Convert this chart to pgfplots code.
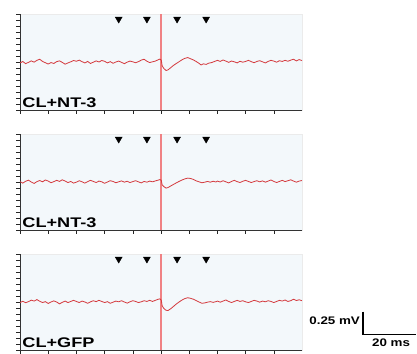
\documentclass[border=0pt]{standalone}
\usepackage{pgfplots}
\pgfplotsset{compat=1.18}
\usepackage{fontspec}
\setmainfont{Liberation Sans}
\definecolor{trace}{RGB}{212,58,62}
\definecolor{spike}{RGB}{240,130,132}
\definecolor{bgpanel}{RGB}{243,248,251}
\pgfplotsset{
  panel/.style={
    scale only axis, width=282bp, height=96bp,
    xmin=0, xmax=100, ymin=-0.52, ymax=0.52,
    xtick={0,10,...,90}, ytick={-0.52,-0.455,...,0.53},
    xticklabels={}, yticklabels={},
    axis x line*=bottom, axis y line*=left,
    axis line style={black!80, line width=0.6bp},
    tick align=outside, major tick length=4bp,
    tick style={black!85, line width=0.55bp},
    axis background/.style={fill=bgpanel, draw=black!8},
    anchor=south west,
  },
  tr/.style={trace, line width=0.8bp},
  sp/.style={spike, line width=1.3bp},
  arrows/.style={only marks, mark=triangle*, mark size=4bp, mark options={rotate=180, fill=black, draw=black}},
}
\newcommand{\plabel}[1]{\node[anchor=south west, inner sep=0pt] at (rel axis cs:0.008,0.02) {\fontsize{14}{14}\selectfont\bfseries\scalebox{1.3}[1]{#1}};}
\begin{document}
\begin{tikzpicture}
\path[use as bounding box] (0,0) rectangle (417bp,354bp);
% Panel 1
\begin{axis}[panel, at={(20bp,244bp)}]
\addplot[sp] coordinates {(50.05,-0.52)(50.05,0.52)};
\addplot[tr] coordinates {
(0,-0.010)(1,0.005)(2,-0.018)(3,-0.004)(4,0.012)(5,-0.002)(6,0.018)(7,0.030)(8,0.006)(9,-0.008)
(10,-0.022)(11,-0.006)(12,-0.016)(13,0.004)(14,0.012)(15,-0.004)(16,-0.024)(17,-0.010)(18,0.002)(19,0.016)
(20,0.008)(21,0.020)(22,0.004)(23,-0.010)(24,0.006)(25,-0.016)(26,-0.002)(27,0.012)(28,0.000)(29,0.016)
(30,0.008)(31,-0.010)(32,0.004)(33,-0.014)(34,0.000)(35,0.010)(36,-0.004)(37,-0.018)(38,-0.002)(39,0.010)
(40,0.002)(41,-0.008)(42,0.004)(43,0.020)(44,0.030)(45,0.008)(46,-0.006)(47,0.002)(48,0.010)(49,0.024)
(49.6,0.032)(50.1,0.020)(50.4,-0.040)(51,-0.070)(51.8,-0.092)(52.5,-0.085)
(53.5,-0.060)(54.5,-0.035)(55.5,-0.015)(56.5,0.005)(57.5,0.025)(58.5,0.040)(59.5,0.048)(60.5,0.035)
(61.5,0.022)(62.5,0.005)(63.5,-0.015)(64.2,-0.032)(65,-0.020)(66,-0.026)(67,-0.012)(68,-0.006)(69,0.006)
(70,0.018)(71,0.006)(72,0.022)(73,0.010)(74,-0.004)(75,0.010)(76,0.002)(77,-0.010)(78,0.008)(79,-0.002)
(80,0.006)(81,0.018)(82,0.004)(83,-0.008)(84,0.006)(85,0.014)(86,0.002)(87,-0.010)(88,0.006)(89,0.018)
(90,0.010)(91,-0.002)(92,0.014)(93,0.006)(94,0.018)(95,0.008)(96,0.020)(97,0.030)(98,0.012)(99,0.026)(100,0.016)
};
\addplot[arrows] coordinates {(35,0.465)(45,0.465)(55.7,0.465)(66,0.465)};
\plabel{CL+NT-3}
\end{axis}
% Panel 2
\begin{axis}[panel, at={(20bp,124bp)}]
\addplot[sp] coordinates {(50.05,-0.52)(50.05,0.52)};
\addplot[tr] coordinates {
(0,0.004)(1,-0.012)(2,0.008)(3,0.020)(4,0.000)(5,-0.016)(6,0.004)(7,0.016)(8,0.002)(9,0.022)
(10,0.010)(11,-0.008)(12,0.004)(13,0.018)(14,0.006)(15,0.024)(16,0.010)(17,-0.006)(18,0.006)(19,-0.012)
(20,-0.002)(21,0.014)(22,0.002)(23,-0.012)(24,0.004)(25,0.018)(26,0.006)(27,-0.006)(28,0.010)(29,0.002)
(30,-0.014)(31,0.000)(32,0.014)(33,0.006)(34,-0.008)(35,0.002)(36,0.012)(37,-0.002)(38,0.008)(39,-0.006)
(40,0.004)(41,0.014)(42,0.002)(43,-0.010)(44,0.006)(45,-0.002)(46,0.010)(47,0.002)(48,0.012)(49,0.020)
(49.6,0.026)(50.1,0.018)(50.4,-0.030)(51,-0.050)(51.8,-0.066)(52.5,-0.060)
(53.5,-0.042)(54.5,-0.025)(55.5,-0.008)(56.5,0.008)(57.5,0.022)(58.5,0.034)(59.5,0.042)(60.5,0.038)
(61.5,0.028)(62.5,0.012)(63.5,0.002)(64.5,-0.008)(65.5,-0.002)(66.5,0.006)(67.5,-0.002)(68.5,0.008)(69.5,0.000)
(70,0.010)(71,0.000)(72,0.014)(73,0.002)(74,-0.010)(75,0.006)(76,0.018)(77,0.004)(78,-0.006)(79,0.008)
(80,0.018)(81,0.006)(82,-0.006)(83,0.004)(84,0.014)(85,0.002)(86,0.012)(87,-0.002)(88,0.010)(89,0.022)
(90,0.006)(91,-0.006)(92,0.006)(93,0.018)(94,0.004)(95,0.014)(96,0.024)(97,0.010)(98,-0.002)(99,0.010)(100,0.016)
};
\addplot[arrows] coordinates {(35,0.465)(45,0.465)(55.7,0.465)(66,0.465)};
\plabel{CL+NT-3}
\end{axis}
% Panel 3
\begin{axis}[panel, at={(20bp,4bp)}, clip=false]
\addplot[sp] coordinates {(50.05,-0.52)(50.05,0.52)};
\addplot[tr] coordinates {
(0,-0.006)(1,0.008)(2,-0.008)(3,0.004)(4,0.020)(5,0.010)(6,0.026)(7,0.008)(8,-0.006)(9,0.004)
(10,-0.016)(11,0.000)(12,0.012)(13,0.000)(14,-0.020)(15,-0.004)(16,0.010)(17,-0.006)(18,0.006)(19,0.018)
(20,0.006)(21,-0.006)(22,0.010)(23,0.000)(24,-0.014)(25,0.002)(26,0.014)(27,0.004)(28,0.018)(29,0.006)
(30,-0.006)(31,0.004)(32,-0.014)(33,-0.002)(34,0.010)(35,0.002)(36,0.014)(37,0.000)(38,-0.012)(39,0.002)
(40,0.014)(41,0.006)(42,-0.006)(43,0.002)(44,0.014)(45,0.006)(46,0.018)(47,0.006)(48,0.018)(49,0.030)
(49.6,0.034)(50.1,0.020)(50.4,-0.040)(51,-0.070)(51.8,-0.090)(52.5,-0.092)
(53.5,-0.072)(54.5,-0.046)(55.5,-0.020)(56.5,0.002)(57.5,0.022)(58.5,0.038)(59.5,0.046)(60.5,0.040)
(61.5,0.030)(62.5,0.015)(63.5,0.000)(64.5,-0.014)(65.5,-0.010)(66.5,-0.002)(67.5,0.004)(68.5,-0.004)(69.5,0.004)
(70,0.010)(71,-0.002)(72,0.010)(73,0.022)(74,0.006)(75,-0.006)(76,0.006)(77,0.018)(78,0.006)(79,0.014)
(80,0.002)(81,-0.006)(82,0.006)(83,0.018)(84,0.010)(85,-0.002)(86,0.010)(87,0.002)(88,0.014)(89,0.006)
(90,-0.006)(91,0.006)(92,0.018)(93,0.010)(94,0.022)(95,0.006)(96,0.014)(97,0.030)(98,0.016)(99,0.024)(100,0.014)
};
\addplot[arrows] coordinates {(35,0.465)(45,0.465)(55.7,0.465)(66,0.465)};
\plabel{CL+GFP}
% scale bar
\addplot[black, line width=1.2bp] coordinates {(121.6,-0.105)(121.6,-0.355)(140.6,-0.355)};
\node[anchor=east, inner sep=0pt] at (axis cs:120.6,-0.20) {\fontsize{11}{11}\selectfont\bfseries\scalebox{1.22}[1]{0.25 mV}};
\node[anchor=north, inner sep=0pt] at (axis cs:131.6,-0.40) {\fontsize{11}{11}\selectfont\bfseries\scalebox{1.22}[1]{20 ms}};
\end{axis}
\end{tikzpicture}
\end{document}
